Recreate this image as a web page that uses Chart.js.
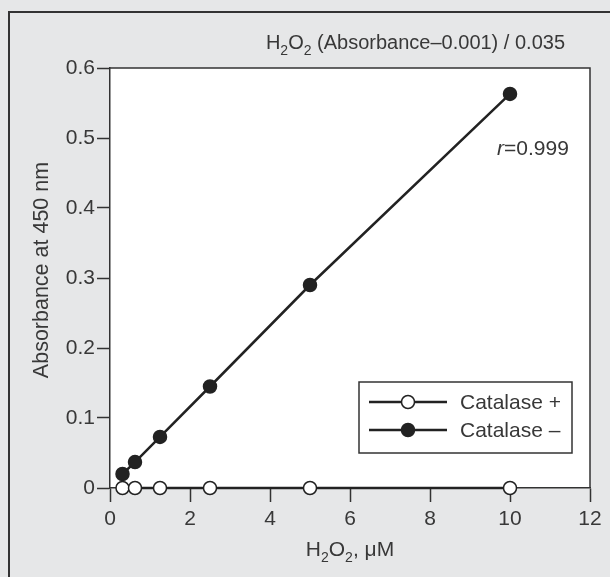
<!DOCTYPE html>
<html>
<head>
<meta charset="utf-8">
<script src="https://cdn.jsdelivr.net/npm/chart.js@4.4.1/dist/chart.umd.min.js"></script>
<style>
  html, body { margin: 0; padding: 0; background: #e6e7e8; }
  #wrap { width: 610px; height: 577px; }
</style>
</head>
<body>
<div id="wrap"><canvas id="chart" width="610" height="577"></canvas></div>
<script>
// H2O2 concentration (uM)
const concentrations = [0.3125, 0.625, 1.25, 2.5, 5, 10];
const catalasePlus = [0, 0, 0, 0, 0, 0];
const catalaseMinus = [0.020, 0.037, 0.073, 0.145, 0.290, 0.563];
const xTicks = [0, 2, 4, 6, 8, 10, 12];
const yTicks = [0, 0.1, 0.2, 0.3, 0.4, 0.5, 0.6];

const FONT = '"Liberation Sans", Arial, Helvetica, sans-serif';
const TEXT = '#383838';
const INK = '#222';

function toPoints(xs, ys) {
    return xs.map((x, i) => ({ x: x, y: ys[i] }));
}

// draws text with subscript parts, e.g. [['H'], ['2', true], ['O'] ...]
function drawRich(ctx, parts, x, y, size, align) {
    const subSize = Math.round(size * 0.68);
    let total = 0;
    parts.forEach(p => {
        ctx.font = (p[1] ? subSize : size) + 'px ' + FONT;
        total += ctx.measureText(p[0]).width;
    });
    let cx = x;
    if (align === 'right') cx = x - total;
    if (align === 'center') cx = x - total / 2;
    ctx.textAlign = 'left';
    ctx.textBaseline = 'alphabetic';
    parts.forEach(p => {
        ctx.font = (p[1] ? subSize : size) + 'px ' + FONT;
        ctx.fillText(p[0], cx, p[1] ? y + size * 0.28 : y);
        cx += ctx.measureText(p[0]).width;
    });
}

function marker(ctx, x, y, filled) {
    ctx.beginPath();
    ctx.arc(x, y, 6.5, 0, Math.PI * 2);
    ctx.fillStyle = filled ? INK : '#fff';
    ctx.fill();
    ctx.lineWidth = 1.5;
    ctx.strokeStyle = INK;
    ctx.stroke();
}

const decor = {
    id: 'decor',
    beforeDraw(chart) {
        const ctx = chart.ctx;
        const a = chart.chartArea;
        ctx.save();
        ctx.fillStyle = '#e6e7e8';
        ctx.fillRect(0, 0, chart.width, chart.height);
        ctx.fillStyle = '#fff';
        ctx.fillRect(a.left, a.top, a.right - a.left, a.bottom - a.top);
        // outer frame (runs off the right and bottom)
        ctx.strokeStyle = '#333';
        ctx.lineWidth = 2;
        ctx.beginPath();
        ctx.moveTo(9, chart.height);
        ctx.lineTo(9, 12);
        ctx.lineTo(chart.width, 12);
        ctx.stroke();
        ctx.restore();
    },
    afterDraw(chart) {
        const ctx = chart.ctx;
        const a = chart.chartArea;
        ctx.save();
        // top and right border of plot box
        ctx.strokeStyle = '#333';
        ctx.lineWidth = 1.5;
        ctx.beginPath();
        ctx.moveTo(a.left, a.top);
        ctx.lineTo(a.right, a.top);
        ctx.lineTo(a.right, a.bottom);
        ctx.stroke();

        ctx.fillStyle = TEXT;
        // title
        drawRich(ctx, [['H'], ['2', true], ['O'], ['2', true], [' (Absorbance\u20130.001) / 0.035']], 565, 49, 20, 'right');
        // x axis title
        drawRich(ctx, [['H'], ['2', true], ['O'], ['2', true], [', \u03bcM']], 350, 556, 21, 'center');
        // y axis title
        ctx.save();
        ctx.translate(48, 270);
        ctx.rotate(-Math.PI / 2);
        ctx.font = '21.5px ' + FONT;
        ctx.textAlign = 'center';
        ctx.textBaseline = 'alphabetic';
        ctx.fillText('Absorbance at 450 nm', 0, 0);
        ctx.restore();
        // correlation
        ctx.font = 'italic 21px ' + FONT;
        ctx.textAlign = 'left';
        ctx.textBaseline = 'alphabetic';
        ctx.fillText('r', 497, 155);
        const rw = ctx.measureText('r').width;
        ctx.font = '21px ' + FONT;
        ctx.fillText('=0.999', 497 + rw, 155);

        // legend
        ctx.strokeStyle = '#333';
        ctx.lineWidth = 1.5;
        ctx.fillStyle = '#fff';
        ctx.fillRect(359, 382, 213, 71);
        ctx.strokeRect(359, 382, 213, 71);
        const rows = [['Catalase +', false, 402], ['Catalase \u2013', true, 430]];
        rows.forEach(r => {
            ctx.strokeStyle = INK;
            ctx.lineWidth = 2.5;
            ctx.beginPath();
            ctx.moveTo(369, r[2]);
            ctx.lineTo(447, r[2]);
            ctx.stroke();
            marker(ctx, 408, r[2], r[1]);
            ctx.fillStyle = TEXT;
            ctx.font = '21px ' + FONT;
            ctx.textAlign = 'left';
            ctx.textBaseline = 'middle';
            ctx.fillText(r[0], 460, r[2] + 1);
        });
        ctx.restore();
    }
};

new Chart(document.getElementById('chart'), {
    type: 'scatter',
    data: {
        datasets: [
            {
                label: 'Catalase +',
                data: toPoints(concentrations, catalasePlus),
                showLine: true,
                borderColor: INK,
                borderWidth: 2.5,
                pointRadius: 6.5,
                pointBorderWidth: 1.5,
                pointBackgroundColor: '#fff',
                pointBorderColor: INK,
                clip: false
            },
            {
                label: 'Catalase \u2013',
                data: toPoints(concentrations, catalaseMinus),
                showLine: true,
                borderColor: INK,
                borderWidth: 2.5,
                pointRadius: 6.5,
                pointBorderWidth: 1.5,
                pointBackgroundColor: INK,
                pointBorderColor: INK,
                clip: false
            }
        ]
    },
    options: {
        responsive: false,
        animation: false,
        devicePixelRatio: 1,
        layout: { padding: { left: 0, right: 20, top: 68, bottom: 0 } },
        plugins: {
            legend: { display: false },
            title: { display: false },
            tooltip: { enabled: false }
        },
        scales: {
            x: {
                type: 'linear',
                min: 0,
                max: 12,
                afterFit: s => { s.height = 89; },
                afterBuildTicks: s => { s.ticks = xTicks.map(v => ({ value: v })); },
                ticks: {
                    color: TEXT,
                    font: { family: FONT, size: 21 },
                    padding: 5,
                    maxRotation: 0
                },
                grid: {
                    drawOnChartArea: false,
                    tickLength: 14,
                    tickColor: '#333',
                    tickWidth: 1.5
                },
                border: { display: true, color: '#333', width: 1.5 }
            },
            y: {
                min: 0,
                max: 0.6,
                afterFit: s => { s.width = 110; },
                afterBuildTicks: s => { s.ticks = yTicks.map(v => ({ value: v })); },
                ticks: {
                    color: TEXT,
                    font: { family: FONT, size: 21 },
                    padding: 2,
                    callback: v => v === 0 ? '0' : v.toFixed(1)
                },
                grid: {
                    drawOnChartArea: false,
                    tickLength: 13,
                    tickColor: '#333',
                    tickWidth: 1.5
                },
                border: { display: true, color: '#333', width: 1.5 }
            }
        }
    },
    plugins: [decor]
});
</script>
</body>
</html>
